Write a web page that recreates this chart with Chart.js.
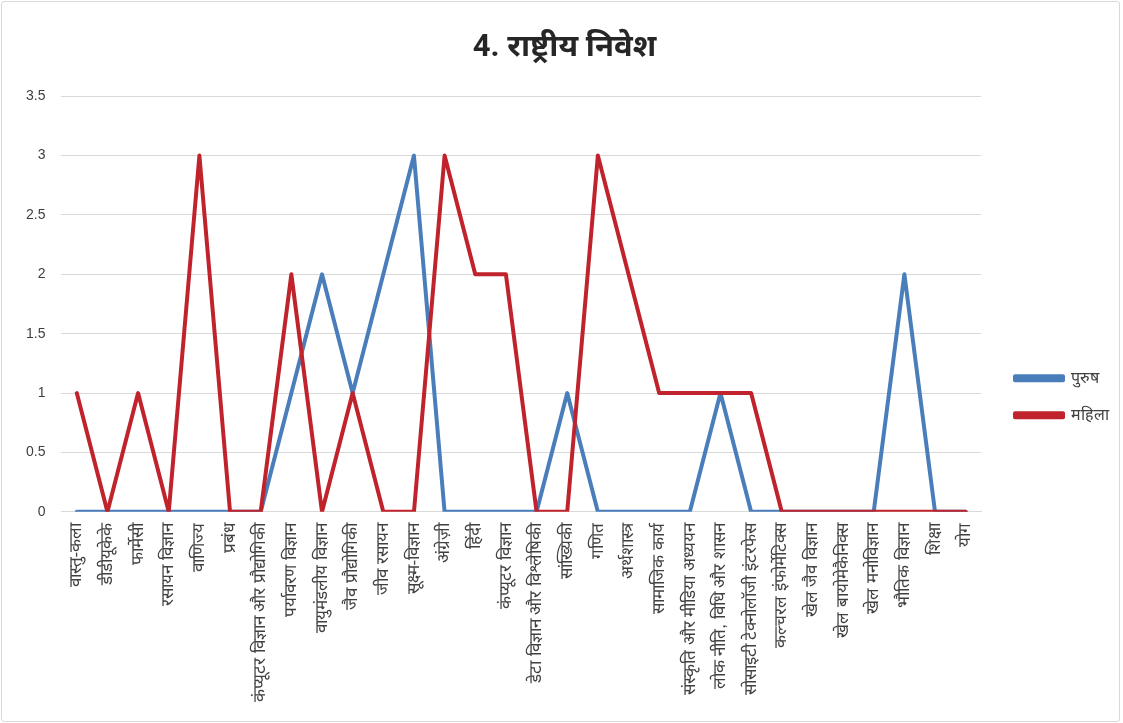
<!DOCTYPE html>
<html>
<head>
<meta charset="utf-8">
<script src="https://cdn.jsdelivr.net/npm/chart.js@4.4.1/dist/chart.umd.min.js"></script>
<style>
  html, body { margin: 0; padding: 0; background: #fff; }
  #wrap { position: relative; width: 1117px; height: 719px; margin: 1px; border: 1px solid #d9d9d9; border-radius: 3px; }
</style>
</head>
<body>
<div id="wrap"><canvas id="chart"></canvas></div>
<script>
// ---------- Data ----------
const categories = [
  "वास्तु-कला", "डीडीयूकेके", "फार्मेसी", "रसायन विज्ञान", "वाणिज्य", "प्रबंध",
  "कंप्यूटर विज्ञान और प्रौद्योगिकी", "पर्यावरण विज्ञान", "वायुमंडलीय विज्ञान",
  "जैव प्रौद्योगिकी", "जीव रसायन", "सूक्ष्म-विज्ञान", "अंग्रेज़ी", "हिंदी",
  "कंप्यूटर विज्ञान", "डेटा विज्ञान और विश्लेषिकी", "सांख्यिकी", "गणित",
  "अर्थशास्त्र", "सामाजिक कार्य", "संस्कृति और मीडिया अध्ययन",
  "लोक नीति, विधि और शासन", "सोसाइटी टेक्नोलॉजी इंटरफेस", "कल्चरल इंफोर्मेटिक्स",
  "खेल जैव विज्ञान", "खेल बायोमेकैनिक्स", "खेल मनोविज्ञान", "भौतिक विज्ञान",
  "शिक्षा", "योग"
];
const male = [0, 0, 0, 0, 0, 0, 0, 1, 2, 1, 2, 3, 0, 0, 0, 0, 1, 0, 0, 0, 0, 1, 0, 0, 0, 0, 0, 2, 0, 0];
const female = [1, 0, 1, 0, 3, 0, 0, 2, 0, 1, 0, 0, 3, 2, 2, 0, 0, 3, 2, 1, 1, 1, 1, 0, 0, 0, 0, 0, 0, 0];
const seriesNames = ["पुरुष", "महिला"];
const titleText = "4. राष्ट्रीय निवेश";

// ---------- Chart ----------
const lineStyle = { borderWidth: 4, borderJoinStyle: 'round', borderCapStyle: 'round', pointRadius: 0, tension: 0 };

const ctx = document.getElementById('chart').getContext('2d');
new Chart(ctx, {
  type: 'line',
  data: {
    labels: categories,
    datasets: [
      // red is drawn over blue, like the original
      { label: seriesNames[0], data: male, borderColor: '#4a7ebb', backgroundColor: '#4a7ebb', order: 1, ...lineStyle },
      { label: seriesNames[1], data: female, borderColor: '#c0232c', backgroundColor: '#c0232c', order: 0, ...lineStyle }
    ]
  },
  options: {
    responsive: true,
    maintainAspectRatio: false,
    animation: false,
    layout: { padding: { left: 8, right: 0, top: 24, bottom: 16 } },
    plugins: {
      title: {
        display: true,
        text: titleText,
        color: '#262626',
        font: { size: 31, weight: 'bold', family: 'Roboto, "Noto Sans", sans-serif' },
        padding: { top: 4, bottom: 29 }
      },
      legend: {
        position: 'right',
        // empty title only pushes the items down a little
        title: { display: true, text: ' ', padding: { top: 0, bottom: 48 } },
        labels: {
          boxWidth: 48,
          boxHeight: 4,
          color: '#404040',
          font: { size: 16 },
          padding: 21,
          sort: (a, b) => a.datasetIndex - b.datasetIndex
        }
      },
      tooltip: { enabled: false }
    },
    scales: {
      x: {
        offset: true,
        grid: { display: false },
        border: { color: '#d9d9d9' },
        ticks: {
          autoSkip: false,
          maxRotation: 90,
          minRotation: 90,
          color: '#404040',
          font: { size: 17 }
        }
      },
      y: {
        min: 0,
        max: 3.5,
        ticks: {
          stepSize: 0.5,
          color: '#404040',
          font: { size: 14 },
          padding: 16,
          callback: v => String(v)
        },
        grid: { color: '#d9d9d9', drawTicks: false },
        border: { display: false }
      },
      // empty right axis, just a gap between plot and legend
      gap: {
        axis: 'y',
        position: 'right',
        grid: { display: false },
        border: { display: false },
        ticks: { display: false },
        afterFit: s => { s.width = 13; }
      }
    }
  }
});
</script>
</body>
</html>
